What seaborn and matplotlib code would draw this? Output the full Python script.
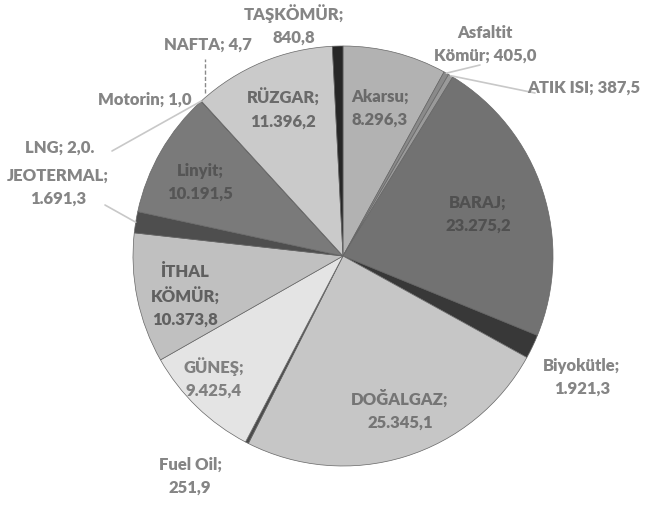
import numpy as np
import matplotlib
matplotlib.use('Agg')
import matplotlib.pyplot as plt
import seaborn as sns

# Installed capacity by source (MW), clockwise from 12 o'clock
sources = ['Akarsu', 'Asfaltit Kömür', 'ATIK ISI', 'BARAJ', 'Biyokütle',
           'DOĞALGAZ', 'Fuel Oil', 'GÜNEŞ', 'İTHAL KÖMÜR', 'JEOTERMAL',
           'Linyit', 'LNG', 'Motorin', 'NAFTA', 'RÜZGAR', 'TAŞKÖMÜR']
values = [8296.3, 405.0, 387.5, 23275.2, 1921.3,
          25345.1, 251.9, 9425.4, 10373.8, 1691.3,
          10191.5, 2.0, 1.0, 4.7, 11396.2, 840.8]
labels = ['Akarsu;\n8.296,3', 'Asfaltit\nKömür; 405,0', 'ATIK ISI; 387,5',
          'BARAJ;\n23.275,2', 'Biyokütle;\n1.921,3', 'DOĞALGAZ;\n25.345,1',
          'Fuel Oil;\n251,9', 'GÜNEŞ;\n9.425,4', 'İTHAL\nKÖMÜR;\n10.373,8',
          'JEOTERMAL;\n1.691,3', 'Linyit;\n10.191,5', 'LNG; 2,0.',
          'Motorin; 1,0', 'NAFTA; 4,7', 'RÜZGAR;\n11.396,2', 'TAŞKÖMÜR;\n840,8']
colors = ['#b2b2b2', '#8a8a8a', '#9a9a9a', '#727272', '#383838',
          '#c6c6c6', '#4a4a4a', '#e4e4e4', '#c0c0c0', '#4e4e4e',
          '#7a7a7a', '#999999', '#aaaaaa', '#bbbbbb', '#cacaca', '#262626']

sns.set_style('white')
plt.rcParams['font.family'] = ['Lato', 'DejaVu Sans']

W, H = 661, 506
fig = plt.figure(figsize=(W / 100, H / 100), dpi=100)
ax = fig.add_axes([0, 0, 1, 1])

cx, cy, r = 343, H - 257, 210
wedges, _ = ax.pie(values, colors=colors, startangle=90, counterclock=False,
                   center=(cx, cy), radius=r, frame=True,
                   wedgeprops=dict(edgecolor='#666666', linewidth=0.5))
ax.set_xlim(0, W)
ax.set_ylim(0, H)
ax.set_aspect('equal')
ax.axis('off')

# label placement (image pixel coords), inside flag and text colour
label_pos = {
    'Akarsu': (380, 108, True, '#6a6a6a'),
    'Asfaltit Kömür': (485, 44, False, None),
    'ATIK ISI': (584, 88, False, None),
    'BARAJ': (478, 214, True, '#505050'),
    'Biyokütle': (582, 377, False, None),
    'DOĞALGAZ': (400, 410, True, '#757575'),
    'Fuel Oil': (190, 476, False, None),
    'GÜNEŞ': (214, 378, True, '#808080'),
    'İTHAL KÖMÜR': (185, 296, True, '#606060'),
    'JEOTERMAL': (58, 187, False, None),
    'Linyit': (200, 182, True, '#555555'),
    'LNG': (60, 148, False, None),
    'Motorin': (145, 100, False, None),
    'NAFTA': (208, 45, False, None),
    'RÜZGAR': (283, 109, True, '#6a6a6a'),
    'TAŞKÖMÜR': (294, 25, False, None),
}
# leader line end points near labels (image coords)
leaders = {
    'Asfaltit Kömür': (480, 66),
    'ATIK ISI': (535, 94),
    'LNG': (112, 152),
    'JEOTERMAL': (105, 206),
}

for w, src, lab in zip(wedges, sources, labels):
    x, y, inside, col = label_pos[src]
    ax.text(x, H - y, lab, ha='center', va='center', fontsize=12,
            fontweight='heavy', color=col if inside else '#858585',
            linespacing=1.5)
    mid = np.deg2rad((w.theta1 + w.theta2) / 2)
    ex, ey = cx + r * np.cos(mid), cy + r * np.sin(mid)
    if src in leaders:
        lx, ly = leaders[src]
        ax.plot([ex, lx], [ey, H - ly], color='#c8c8c8', lw=1.2)
    if src == 'NAFTA':
        ax.plot([ex + 4, ex + 4], [ey + 8, H - 60], color='#8a8a8a', lw=1,
                linestyle=(0, (3, 1.5)))

fig.savefig('out.png', dpi=100)
